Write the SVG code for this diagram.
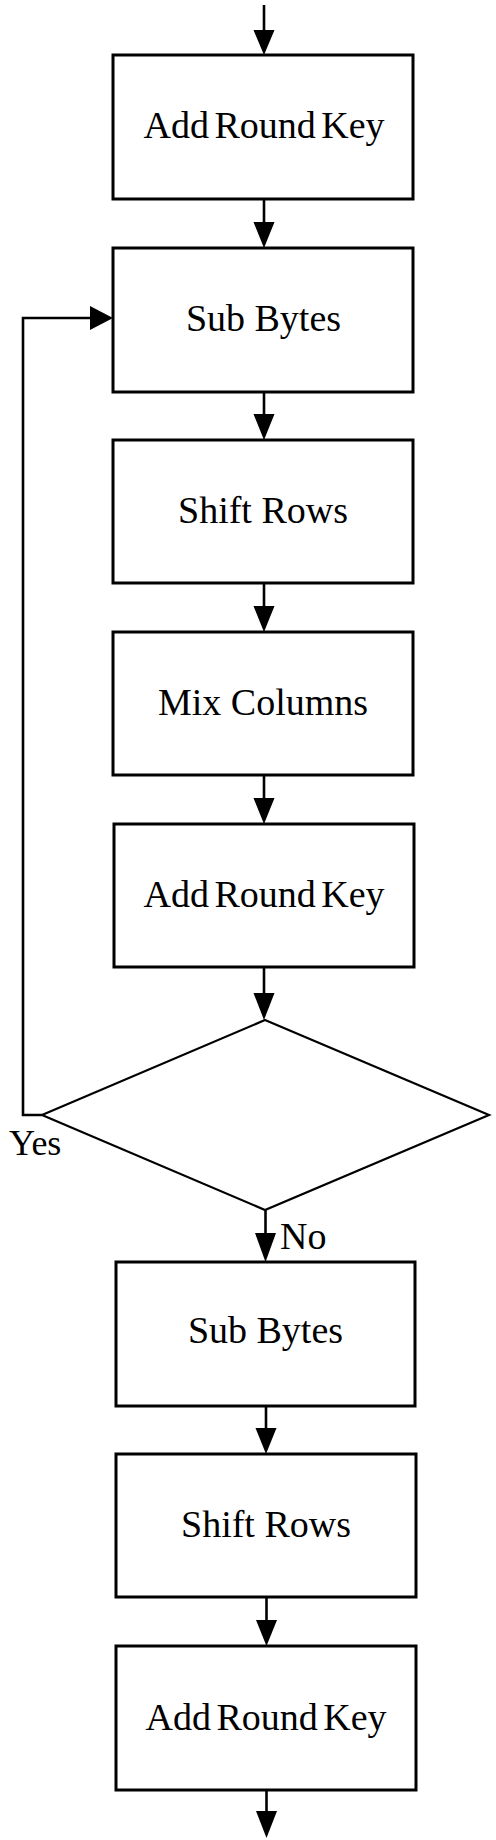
<svg xmlns="http://www.w3.org/2000/svg" width="496" height="1840" viewBox="0 0 496 1840">
<style>
.box{fill:#fff;stroke:#000;stroke-width:3}
.dia{fill:#fff;stroke:#000;stroke-width:2.2}
.ln{fill:none;stroke:#000;stroke-width:2.6}
.hd{fill:#000;stroke:none}
.t{font-family:"Liberation Serif","Times New Roman",serif;font-size:38px;fill:#000;text-anchor:middle}
.w{word-spacing:-4px}
.lbl{font-family:"Liberation Serif","Times New Roman",serif;font-size:38px;fill:#000}
</style>
<rect width="496" height="1840" fill="#fff"/>
<g id="connectors">
<line class="ln" x1="264" y1="5" x2="264" y2="32"/>
<polygon class="hd" points="253.5,30 274.5,30 264,55"/>
<line class="ln" x1="264" y1="199" x2="264" y2="225"/>
<polygon class="hd" points="253.5,222 274.5,222 264,248"/>
<line class="ln" x1="264" y1="392" x2="264" y2="417"/>
<polygon class="hd" points="253.5,414 274.5,414 264,440"/>
<line class="ln" x1="264" y1="583" x2="264" y2="609"/>
<polygon class="hd" points="253.5,606 274.5,606 264,632"/>
<line class="ln" x1="264" y1="775" x2="264" y2="801"/>
<polygon class="hd" points="253.5,798 274.5,798 264,824"/>
<line class="ln" x1="264" y1="967" x2="264" y2="996"/>
<polygon class="hd" points="253.5,993 274.5,993 264,1020"/>
<path class="ln" d="M42,1115 H23 V318 H92"/>
<polygon class="hd" points="90,306 90,330 113,318"/>
<line class="ln" x1="265.5" y1="1210" x2="265.5" y2="1236"/>
<polygon class="hd" points="255,1233 276,1233 265.5,1262"/>
<line class="ln" x1="266" y1="1406" x2="266" y2="1431"/>
<polygon class="hd" points="255.5,1428 276.5,1428 266,1454"/>
<line class="ln" x1="266.5" y1="1597" x2="266.5" y2="1623"/>
<polygon class="hd" points="256,1620 277,1620 266.5,1646"/>
<line class="ln" x1="266.5" y1="1790" x2="266.5" y2="1814"/>
<polygon class="hd" points="256,1811 277,1811 266.5,1838"/>
</g>
<g id="n1"><rect class="box" x="113" y="55" width="300" height="144"/><text class="t w" x="264" y="138">Add Round Key</text></g>
<g id="n2"><rect class="box" x="113" y="248" width="300" height="144"/><text class="t" x="263.5" y="331">Sub Bytes</text></g>
<g id="n3"><rect class="box" x="113" y="440" width="300" height="143"/><text class="t" x="263" y="523">Shift Rows</text></g>
<g id="n4"><rect class="box" x="113" y="632" width="300" height="143"/><text class="t" x="263" y="715">Mix Columns</text></g>
<g id="n5"><rect class="box" x="114" y="824" width="300" height="143"/><text class="t w" x="264" y="907">Add Round Key</text></g>
<g id="decision"><polygon class="dia" points="265,1020 489,1115 265,1210 42,1115"/></g>
<g id="lbl-yes"><text class="lbl" x="9" y="1155" font-size="36" style="font-size:36px">Yes</text></g>
<g id="lbl-no"><text class="lbl" x="280" y="1249">No</text></g>
<g id="n6"><rect class="box" x="116" y="1262" width="299" height="144"/><text class="t" x="265.5" y="1343">Sub Bytes</text></g>
<g id="n7"><rect class="box" x="116" y="1454" width="300" height="143"/><text class="t" x="266" y="1537">Shift Rows</text></g>
<g id="n8"><rect class="box" x="116" y="1646" width="300" height="144"/><text class="t w" x="266" y="1730">Add Round Key</text></g>
</svg>
